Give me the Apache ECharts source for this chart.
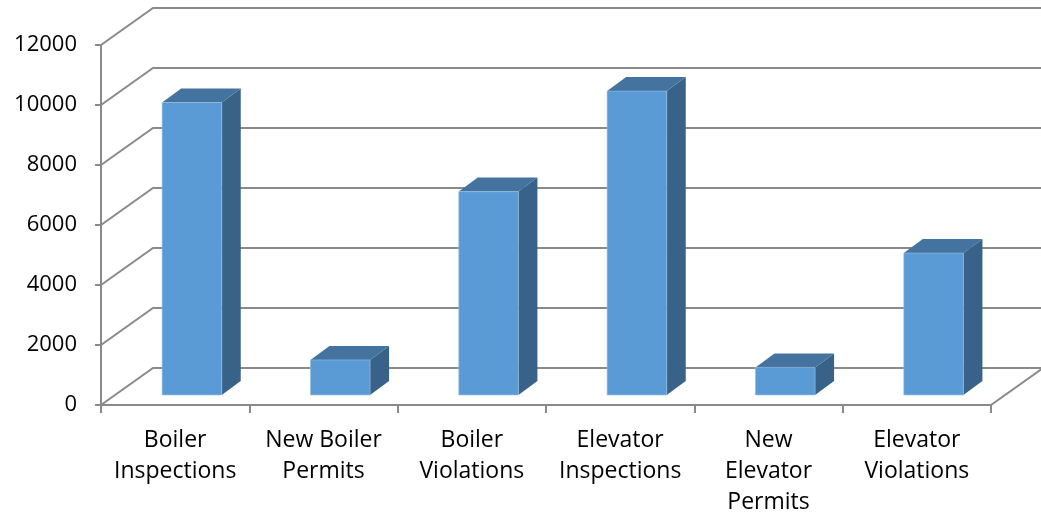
<!DOCTYPE html>
<html>
<head>
<meta charset="utf-8">
<script src="https://cdn.jsdelivr.net/npm/echarts@6/dist/echarts.min.js"></script>
<style>
html,body{margin:0;padding:0;background:#fff;}
#chart{width:1041px;height:525px;}
</style>
</head>
<body>
<div id="chart"></div>
<script>
// ---- data ----
const categories = ['Boiler\nInspections', 'New Boiler\nPermits', 'Boiler\nViolations', 'Elevator\nInspections', 'New\nElevator\nPermits', 'Elevator\nViolations'];
const values = [9750, 1170, 6780, 10130, 920, 4730];
const yTicks = [0, 2000, 4000, 6000, 8000, 10000, 12000];

// ---- style constants (3D projection) ----
const WALL_DX = 52, WALL_DY = 37;     // depth of walls
const BAR_DX = 19, BAR_DY = 14;       // depth of each bar
const BAR_LIFT = 10;                  // bar front face lift above floor front
const BAR_LEFT = 0.088, BAR_W = 0.402;// fraction of band width
const LINE = '#8a8a8a';
const FRONT = '#5b9bd5', TOP = '#44739f', SIDE = '#386288';

const chart = echarts.init(document.getElementById('chart'), null, {renderer: 'canvas'});

const wallData = yTicks.map(v => [0, v]);
const barData = values.map((v, i) => [i, v]);

chart.setOption({
  animation: false,
  backgroundColor: '#fff',
  grid: {left: 101, top: 45, width: 890, height: 360, containLabel: false},
  xAxis: {
    type: 'category',
    data: categories,
    axisLine: {show: true, lineStyle: {color: LINE, width: 2}},
    axisTick: {show: true, alignWithLabel: false, length: 8, lineStyle: {color: LINE, width: 2}},
    axisLabel: {
      interval: 0, margin: 20, color: '#000',
      fontFamily: 'Open Sans', fontSize: 23, lineHeight: 31
    },
    splitLine: {show: false}
  },
  yAxis: {
    type: 'value', min: 0, max: 12000, interval: 2000,
    axisLine: {show: true, lineStyle: {color: LINE, width: 2}},
    axisTick: {show: true, length: 6, lineStyle: {color: LINE, width: 2}},
    axisLabel: {margin: 24, color: '#000', fontFamily: 'Open Sans', fontSize: 22,
      formatter: function (v) { return String(v); }},
    splitLine: {show: false}
  },
  series: [
    {
      type: 'custom',
      z: 1,
      clip: false,
      silent: true,
      data: wallData,
      renderItem: function (params, api) {
        const v = api.value(1);
        const p = api.coord([0, v]);
        const bw = api.size([1, 0])[0];
        const xl = p[0] - bw / 2;
        const xr = api.coord([categories.length - 1, v])[0] + bw / 2;
        const y = p[1];
        const children = [{
          type: 'polyline',
          shape: {points: [[xl, y], [xl + WALL_DX, y - WALL_DY], [xr + WALL_DX, y - WALL_DY]]},
          style: {stroke: LINE, lineWidth: 2, fill: null}
        }];
        if (v === 0) {
          children.push({
            type: 'line',
            shape: {x1: xr, y1: y, x2: xr + WALL_DX, y2: y - WALL_DY},
            style: {stroke: LINE, lineWidth: 2}
          });
        }
        return {type: 'group', children: children};
      }
    },
    {
      type: 'custom',
      z: 3,
      clip: false,
      data: barData,
      renderItem: function (params, api) {
        const i = api.value(0), v = api.value(1);
        const top = api.coord([i, v]);
        const base = api.coord([i, 0]);
        const bw = api.size([1, 0])[0];
        const x0 = top[0] - bw * BAR_LEFT;
        const x1 = x0 + bw * BAR_W;
        const yt = top[1] - BAR_LIFT;
        const yb = base[1] - BAR_LIFT;
        return {
          type: 'group',
          children: [
            {type: 'polygon', shape: {points: [[x1, yb], [x1 + BAR_DX, yb - BAR_DY], [x1 + BAR_DX, yt - BAR_DY], [x1, yt]]},
             style: {fill: SIDE}},
            {type: 'polygon', shape: {points: [[x0, yt], [x0 + BAR_DX, yt - BAR_DY], [x1 + BAR_DX, yt - BAR_DY], [x1, yt]]},
             style: {fill: TOP}},
            {type: 'rect', shape: {x: x0, y: yt, width: x1 - x0, height: yb - yt},
             style: {fill: FRONT, stroke: 'rgba(150,190,230,0.6)', lineWidth: 1}}
          ]
        };
      }
    }
  ]
});
</script>
</body>
</html>
